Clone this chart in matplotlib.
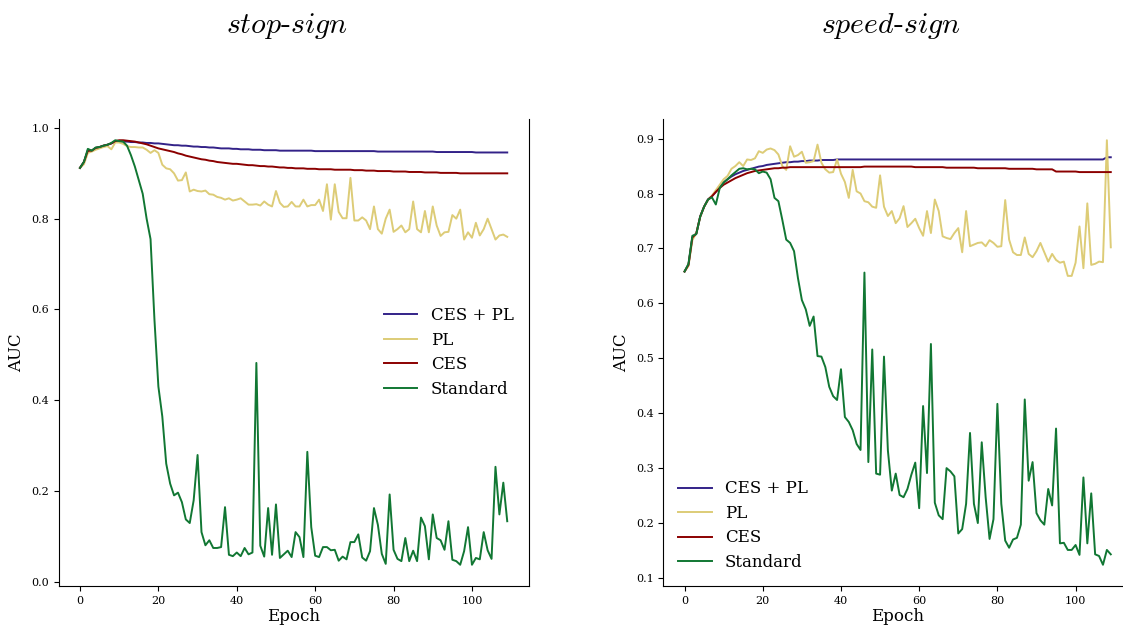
import numpy as np
import matplotlib
matplotlib.use("Agg")
import matplotlib.pyplot as plt

plt.rcParams["font.family"] = "DejaVu Serif"
plt.rcParams["mathtext.fontset"] = "cm"

# ---- data (AUC per epoch) ----
epochs = np.arange(110)
labels = ["CES + PL", "PL", "CES", "Standard"]
colors = ["#332288", "#DDCC77", "#8B0000", "#117733"]
titles = [r"$stop\text{-}sign$", r"$speed\text{-}sign$"]

stop_cespl = [
    0.912, 0.925, 0.950, 0.950, 0.956, 0.958, 0.961, 0.963, 0.966, 0.970,
    0.971, 0.970, 0.970, 0.969, 0.969, 0.968, 0.968, 0.967, 0.967, 0.966,
    0.966, 0.965, 0.964, 0.963, 0.962, 0.962, 0.961, 0.961, 0.960, 0.959,
    0.959, 0.958, 0.958, 0.957, 0.957, 0.956, 0.955, 0.955, 0.955, 0.954,
    0.954, 0.953, 0.953, 0.953, 0.952, 0.952, 0.952, 0.951, 0.951, 0.951,
    0.951, 0.950, 0.950, 0.950, 0.950, 0.950, 0.950, 0.950, 0.950, 0.950,
    0.949, 0.949, 0.949, 0.949, 0.949, 0.949, 0.949, 0.949, 0.949, 0.949,
    0.949, 0.949, 0.949, 0.949, 0.949, 0.949, 0.948, 0.948, 0.948, 0.948,
    0.948, 0.948, 0.948, 0.948, 0.948, 0.948, 0.948, 0.948, 0.948, 0.948,
    0.948, 0.947, 0.947, 0.947, 0.947, 0.947, 0.947, 0.947, 0.947, 0.947,
    0.947, 0.946, 0.946, 0.946, 0.946, 0.946, 0.946, 0.946, 0.946, 0.946,
]
stop_pl = [
    0.912, 0.920, 0.945, 0.948, 0.952, 0.955, 0.958, 0.960, 0.953, 0.968,
    0.968, 0.965, 0.960, 0.958, 0.958, 0.957, 0.957, 0.952, 0.945, 0.951,
    0.945, 0.919, 0.911, 0.909, 0.900, 0.884, 0.885, 0.902, 0.860, 0.864,
    0.861, 0.860, 0.862, 0.854, 0.853, 0.848, 0.846, 0.842, 0.845, 0.840,
    0.842, 0.845, 0.838, 0.831, 0.831, 0.832, 0.829, 0.838, 0.831, 0.827,
    0.861, 0.835, 0.826, 0.827, 0.837, 0.827, 0.827, 0.842, 0.827, 0.830,
    0.830, 0.842, 0.817, 0.876, 0.798, 0.876, 0.815, 0.801, 0.801, 0.890,
    0.796, 0.796, 0.803, 0.796, 0.777, 0.827, 0.777, 0.767, 0.800, 0.820,
    0.771, 0.777, 0.785, 0.770, 0.777, 0.838, 0.777, 0.770, 0.817, 0.770,
    0.827, 0.785, 0.762, 0.770, 0.771, 0.808, 0.800, 0.820, 0.754, 0.770,
    0.758, 0.791, 0.763, 0.777, 0.800, 0.777, 0.754, 0.763, 0.765, 0.760,
]
stop_ces = [
    0.912, 0.925, 0.950, 0.950, 0.956, 0.958, 0.961, 0.963, 0.966, 0.971,
    0.973, 0.973, 0.972, 0.971, 0.970, 0.968, 0.966, 0.964, 0.961, 0.958,
    0.955, 0.953, 0.951, 0.949, 0.947, 0.944, 0.942, 0.939, 0.937, 0.935,
    0.933, 0.931, 0.930, 0.928, 0.927, 0.925, 0.924, 0.923, 0.922, 0.921,
    0.921, 0.920, 0.919, 0.918, 0.918, 0.917, 0.916, 0.916, 0.915, 0.915,
    0.914, 0.913, 0.913, 0.912, 0.912, 0.911, 0.911, 0.911, 0.910, 0.910,
    0.910, 0.909, 0.909, 0.909, 0.909, 0.908, 0.908, 0.908, 0.908, 0.908,
    0.907, 0.907, 0.907, 0.906, 0.906, 0.906, 0.905, 0.905, 0.905, 0.905,
    0.904, 0.904, 0.904, 0.904, 0.903, 0.903, 0.903, 0.903, 0.902, 0.902,
    0.902, 0.902, 0.901, 0.901, 0.901, 0.901, 0.901, 0.900, 0.900, 0.900,
    0.900, 0.900, 0.900, 0.900, 0.900, 0.900, 0.900, 0.900, 0.900, 0.900,
]
stop_std = [
    0.912, 0.925, 0.954, 0.950, 0.957, 0.958, 0.961, 0.963, 0.967, 0.973,
    0.971, 0.970, 0.961, 0.940, 0.915, 0.885, 0.855, 0.800, 0.755, 0.577,
    0.430, 0.364, 0.260, 0.216, 0.190, 0.196, 0.175, 0.137, 0.129, 0.179,
    0.279, 0.109, 0.080, 0.091, 0.074, 0.074, 0.076, 0.164, 0.059, 0.056,
    0.064, 0.056, 0.074, 0.060, 0.064, 0.482, 0.079, 0.055, 0.162, 0.059,
    0.170, 0.052, 0.060, 0.068, 0.054, 0.109, 0.098, 0.054, 0.286, 0.120,
    0.057, 0.054, 0.076, 0.076, 0.069, 0.070, 0.046, 0.055, 0.049, 0.087,
    0.087, 0.104, 0.053, 0.046, 0.067, 0.162, 0.125, 0.061, 0.039, 0.192,
    0.070, 0.050, 0.045, 0.096, 0.045, 0.068, 0.045, 0.141, 0.122, 0.049,
    0.148, 0.096, 0.091, 0.070, 0.133, 0.048, 0.045, 0.037, 0.067, 0.120,
    0.037, 0.052, 0.049, 0.109, 0.069, 0.050, 0.253, 0.148, 0.218, 0.133,
]

speed_cespl = [
    0.658, 0.670, 0.720, 0.727, 0.758, 0.776, 0.789, 0.795, 0.803, 0.812,
    0.820, 0.826, 0.831, 0.835, 0.838, 0.841, 0.843, 0.845, 0.847, 0.849,
    0.850, 0.852, 0.853, 0.854, 0.855, 0.856, 0.857, 0.857, 0.858, 0.858,
    0.859, 0.859, 0.860, 0.860, 0.860, 0.861, 0.861, 0.861, 0.861, 0.862,
    0.862, 0.862, 0.862, 0.862, 0.862, 0.862, 0.862, 0.862, 0.862, 0.862,
    0.862, 0.862, 0.862, 0.862, 0.862, 0.862, 0.862, 0.862, 0.862, 0.862,
    0.862, 0.862, 0.862, 0.862, 0.862, 0.862, 0.862, 0.862, 0.862, 0.862,
    0.862, 0.862, 0.862, 0.862, 0.862, 0.862, 0.862, 0.862, 0.862, 0.862,
    0.862, 0.862, 0.862, 0.862, 0.862, 0.862, 0.862, 0.862, 0.862, 0.862,
    0.862, 0.862, 0.862, 0.862, 0.862, 0.862, 0.862, 0.862, 0.862, 0.862,
    0.862, 0.862, 0.862, 0.862, 0.862, 0.862, 0.862, 0.862, 0.866, 0.866,
]
speed_pl = [
    0.658, 0.668, 0.715, 0.728, 0.757, 0.776, 0.788, 0.796, 0.806, 0.816,
    0.826, 0.832, 0.845, 0.850, 0.857, 0.850, 0.862, 0.861, 0.864, 0.877,
    0.874, 0.880, 0.882, 0.879, 0.871, 0.850, 0.843, 0.886, 0.867, 0.870,
    0.876, 0.856, 0.857, 0.859, 0.889, 0.856, 0.844, 0.838, 0.839, 0.862,
    0.836, 0.821, 0.792, 0.843, 0.804, 0.800, 0.786, 0.784, 0.776, 0.774,
    0.833, 0.776, 0.759, 0.768, 0.746, 0.755, 0.777, 0.739, 0.746, 0.754,
    0.737, 0.723, 0.768, 0.728, 0.789, 0.768, 0.722, 0.719, 0.717, 0.728,
    0.737, 0.693, 0.768, 0.704, 0.707, 0.710, 0.711, 0.704, 0.715, 0.710,
    0.703, 0.704, 0.788, 0.716, 0.693, 0.688, 0.688, 0.720, 0.690, 0.684,
    0.695, 0.710, 0.693, 0.676, 0.690, 0.679, 0.674, 0.676, 0.650, 0.650,
    0.674, 0.740, 0.664, 0.782, 0.670, 0.672, 0.676, 0.675, 0.897, 0.702,
]
speed_ces = [
    0.658, 0.670, 0.720, 0.727, 0.758, 0.776, 0.789, 0.795, 0.803, 0.810,
    0.816, 0.820, 0.824, 0.828, 0.831, 0.834, 0.837, 0.839, 0.841, 0.842,
    0.843, 0.844, 0.845, 0.846, 0.846, 0.847, 0.847, 0.848, 0.848, 0.848,
    0.848, 0.848, 0.848, 0.848, 0.848, 0.848, 0.848, 0.848, 0.848, 0.848,
    0.848, 0.848, 0.848, 0.848, 0.848, 0.848, 0.849, 0.849, 0.849, 0.849,
    0.849, 0.849, 0.849, 0.849, 0.849, 0.849, 0.849, 0.849, 0.849, 0.848,
    0.848, 0.848, 0.848, 0.848, 0.848, 0.848, 0.848, 0.847, 0.847, 0.847,
    0.847, 0.847, 0.847, 0.847, 0.847, 0.846, 0.846, 0.846, 0.846, 0.846,
    0.846, 0.846, 0.846, 0.845, 0.845, 0.845, 0.845, 0.845, 0.845, 0.845,
    0.844, 0.844, 0.844, 0.844, 0.844, 0.840, 0.840, 0.840, 0.840, 0.840,
    0.840, 0.839, 0.839, 0.839, 0.839, 0.839, 0.839, 0.839, 0.839, 0.839,
]
speed_std = [
    0.658, 0.672, 0.723, 0.726, 0.758, 0.776, 0.789, 0.793, 0.780, 0.810,
    0.820, 0.826, 0.833, 0.839, 0.845, 0.846, 0.844, 0.845, 0.844, 0.837,
    0.840, 0.838, 0.826, 0.792, 0.786, 0.752, 0.716, 0.710, 0.695, 0.646,
    0.606, 0.589, 0.559, 0.576, 0.504, 0.503, 0.484, 0.448, 0.431, 0.424,
    0.480, 0.393, 0.384, 0.369, 0.344, 0.333, 0.656, 0.311, 0.516, 0.290,
    0.288, 0.503, 0.332, 0.259, 0.290, 0.251, 0.247, 0.262, 0.288, 0.310,
    0.227, 0.413, 0.291, 0.526, 0.237, 0.214, 0.207, 0.300, 0.294, 0.285,
    0.181, 0.189, 0.235, 0.364, 0.235, 0.200, 0.347, 0.247, 0.171, 0.207,
    0.417, 0.235, 0.168, 0.155, 0.170, 0.173, 0.197, 0.425, 0.277, 0.311,
    0.218, 0.205, 0.197, 0.262, 0.232, 0.372, 0.163, 0.164, 0.151, 0.151,
    0.160, 0.142, 0.283, 0.163, 0.254, 0.143, 0.140, 0.124, 0.151, 0.143,
]

panels = [
    [stop_cespl, stop_pl, stop_ces, stop_std],
    [speed_cespl, speed_pl, speed_ces, speed_std],
]

fig = plt.figure(figsize=(11.23, 6.27), dpi=100)
# right panel runs past the figure edge, like the cropped original
ax1 = fig.add_axes([0.0522, 0.0654, 0.4185, 0.7448])
ax2 = fig.add_axes([0.5906, 0.0654, 0.4175, 0.7448])

for ax, series, title, loc, tx in zip([ax1, ax2], panels, titles,
                                      ["center right", "lower left"],
                                      [0.2556, 0.7934]):
    for vals, lab, col in zip(series, labels, colors):
        ax.plot(epochs, vals, color=col, lw=1.4, label=lab)
    ax.spines["top"].set_visible(False)
    ax.set_xlabel("Epoch", fontsize=12, labelpad=2)
    ax.set_ylabel("AUC", fontsize=12)
    ax.tick_params(labelsize=8)
    ax.legend(loc=loc, frameon=False, fontsize=12, labelspacing=0.45)
    fig.text(tx, 1 - 33 / 627, title, ha="center", va="baseline", fontsize=21.5)

fig.savefig("out.png", dpi=100)
